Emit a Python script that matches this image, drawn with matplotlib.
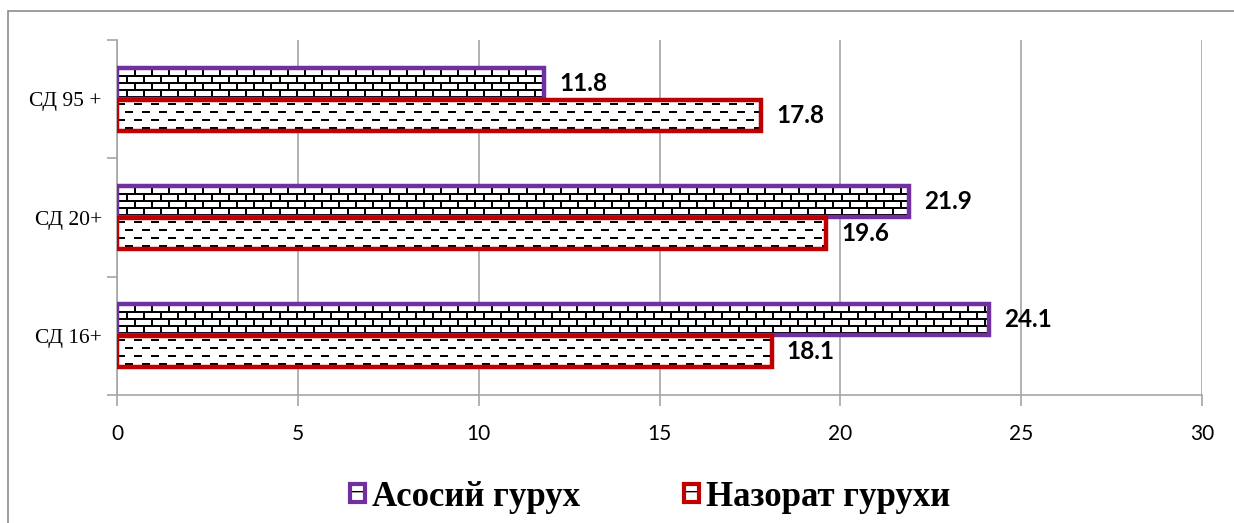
import numpy as np
import matplotlib
matplotlib.use("Agg")
import matplotlib.pyplot as plt
from matplotlib.patches import Patch, Rectangle
from matplotlib.legend_handler import HandlerTuple

categories = ["СД 16+", "СД 20+", "СД 95 +"]
asosiy = [24.1, 21.9, 11.8]
nazorat = [18.1, 19.6, 17.8]
series_names = ["Асосий гурух", "Назорат гурухи"]
xticks = [0, 5, 10, 15, 20, 25, 30]

purple = "#7030A0"
red = "#C00000"
grey = "#A6A6A6"

W, H, DPI = 1234, 523, 100
fig = plt.figure(figsize=(W / DPI, H / DPI), dpi=DPI)
ax = fig.add_axes([117 / W, 1 - 395 / H, (1202 - 117) / W, (395 - 40) / H])

# frame around the whole chart
fig.patches.append(Rectangle((8 / W, -0.05), 1.5, 1 - 11 / H + 0.05,
                             transform=fig.transFigure, fill=False,
                             edgecolor="#8C8C8C", linewidth=1.2))

y = np.arange(len(categories))
bh = 0.26
off = 0.135

bars_a = ax.barh(y + off, asosiy, height=bh, facecolor="white",
                 edgecolor=purple, linewidth=3.2, zorder=3)
bars_n = ax.barh(y - off, nazorat, height=bh, facecolor="white",
                 edgecolor=red, linewidth=3.2, zorder=3)

ax.set_xlim(0, 30)
ax.set_ylim(-0.5, 2.5)


def brick(h, w):
    img = np.ones((h, w))
    for r in range(h):
        row = r // 7
        if r % 7 < 2:
            img[r, :] = 0
        else:
            shift = 0 if row % 2 == 0 else 8
            for c in range(w):
                if (c + shift) % 17 < 2:
                    img[r, c] = 0
    return img


def dashes(h, w):
    img = np.ones((h, w))
    for r in range(h):
        row = r // 8
        if r % 8 in (3, 4):
            shift = 0 if row % 2 == 0 else 9
            for c in range(w):
                if (c + shift) % 17 < 8:
                    img[r, c] = 0
    return img


fig.canvas.draw()
for bars, maker in ((bars_a, brick), (bars_n, dashes)):
    for b in bars:
        x0, y0 = b.get_x(), b.get_y()
        x1, y1 = x0 + b.get_width(), y0 + b.get_height()
        p0 = ax.transData.transform((x0, y0))
        p1 = ax.transData.transform((x1, y1))
        wpx = max(int(round(p1[0] - p0[0])), 1)
        hpx = max(int(round(p1[1] - p0[1])), 1)
        im = ax.imshow(maker(hpx, wpx), cmap="gray", vmin=0, vmax=1,
                       extent=(x0, x1, y0, y1), aspect="auto",
                       interpolation="nearest", zorder=2.5)
        im.set_clip_path(b)
        b.set_facecolor("none")

ax.set_xlim(0, 30)
ax.set_ylim(-0.5, 2.5)

# value labels
for bars, vals in ((bars_a, asosiy), (bars_n, nazorat)):
    for b, v in zip(bars, vals):
        ax.text(v + 0.42, b.get_y() + b.get_height() / 2, f"{v:.1f}",
                va="center", ha="left", fontsize=17.5, fontweight="bold",
                family="Lato", zorder=5)

ax.set_xticks(xticks)
ax.set_xticklabels([str(t) for t in xticks], family="Lato", fontsize=15)
ax.set_yticks(y)
ax.set_yticklabels(categories, family="Liberation Serif", fontsize=15.5)
ax.tick_params(axis="y", length=0, pad=11)
ax.set_yticks([-0.5, 0.5, 1.5, 2.5], minor=True)
ax.tick_params(axis="y", which="minor", length=7, color=grey, width=1.2)
ax.tick_params(axis="x", length=8, color=grey, width=1.2, pad=13)

ax.grid(axis="x", color=grey, linewidth=1.2, zorder=0)
ax.set_axisbelow(True)
for s in ("top", "right"):
    ax.spines[s].set_visible(False)
for s in ("left", "bottom"):
    ax.spines[s].set_color(grey)
    ax.spines[s].set_linewidth(1.2)

# legend
handles = []
for col in (purple, red):
    inner = Patch(facecolor="white", edgecolor="black", hatch="-", linewidth=0)
    outer = Patch(facecolor="none", edgecolor=col, linewidth=3)
    handles.append((inner, outer))
fig.legend(handles, series_names,
           handler_map={tuple: HandlerTuple(ndivide=1, pad=0)},
           loc="center", bbox_to_anchor=(650 / W, 1 - 497 / H), ncol=2,
           frameon=False, handlelength=0.42, handleheight=0.42, handletextpad=0.2,
           columnspacing=3.0, prop={"family": "Liberation Serif",
                                    "weight": "bold", "size": 25})

fig.savefig("out.png", dpi=DPI)
